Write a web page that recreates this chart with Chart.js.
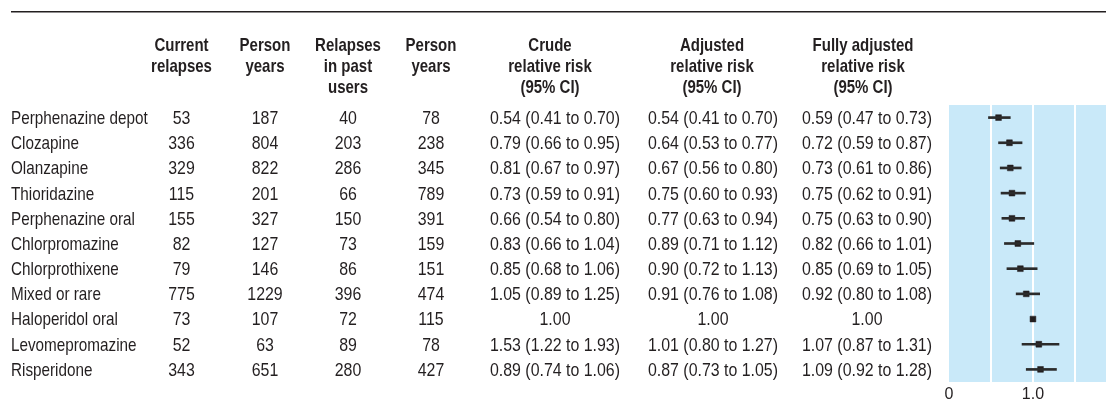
<!DOCTYPE html>
<html>
<head>
<meta charset="utf-8">
<script src="https://cdn.jsdelivr.net/npm/chart.js@4"></script>
<style>
  html, body { margin: 0; padding: 0; background: #ffffff; }
  #wrap { width: 1106px; height: 399px; }
</style>
</head>
<body>
<div id="wrap"><canvas id="forest" width="1106" height="399"></canvas></div>
<script>
// Antipsychotic relapse table with forest plot of the fully adjusted relative risk
const drugs = ["Perphenazine depot", "Clozapine", "Olanzapine", "Thioridazine", "Perphenazine oral",
  "Chlorpromazine", "Chlorprothixene", "Mixed or rare", "Haloperidol oral", "Levomepromazine", "Risperidone"];
const currentRelapses = [53, 336, 329, 115, 155, 82, 79, 775, 73, 52, 343];
const currentPersonYears = [187, 804, 822, 201, 327, 127, 146, 1229, 107, 63, 651];
const pastRelapses = [40, 203, 286, 66, 150, 73, 86, 396, 72, 89, 280];
const pastPersonYears = [78, 238, 345, 789, 391, 159, 151, 474, 115, 78, 427];

const crudeRR   = [0.54, 0.79, 0.81, 0.73, 0.66, 0.83, 0.85, 1.05, 1.00, 1.53, 0.89];
const crudeLow  = [0.41, 0.66, 0.67, 0.59, 0.54, 0.66, 0.68, 0.89, null, 1.22, 0.74];
const crudeHigh = [0.70, 0.95, 0.97, 0.91, 0.80, 1.04, 1.06, 1.25, null, 1.93, 1.06];

const adjRR   = [0.54, 0.64, 0.67, 0.75, 0.77, 0.89, 0.90, 0.91, 1.00, 1.01, 0.87];
const adjLow  = [0.41, 0.53, 0.56, 0.60, 0.63, 0.71, 0.72, 0.76, null, 0.80, 0.73];
const adjHigh = [0.70, 0.77, 0.80, 0.93, 0.94, 1.12, 1.13, 1.08, null, 1.27, 1.05];

const fullRR   = [0.59, 0.72, 0.73, 0.75, 0.75, 0.82, 0.85, 0.92, 1.00, 1.07, 1.09];
const fullLow  = [0.47, 0.59, 0.61, 0.62, 0.63, 0.66, 0.69, 0.80, null, 0.87, 0.92];
const fullHigh = [0.73, 0.87, 0.86, 0.91, 0.90, 1.01, 1.05, 1.08, null, 1.31, 1.28];

const axisTickLabels = { 0: "0", 1: "1.0" };

const headers = [
  ["Current", "relapses"],
  ["Person", "years"],
  ["Relapses", "in past", "users"],
  ["Person", "years"],
  ["Crude", "relative risk", "(95% CI)"],
  ["Adjusted", "relative risk", "(95% CI)"],
  ["Fully adjusted", "relative risk", "(95% CI)"]
];

const FONT = '"Liberation Sans", Arial, Helvetica, sans-serif';
const INK = '#231f20';

function fmtRR(rr, lo, hi) {
  if (lo == null) return rr.toFixed(2);
  return rr.toFixed(2) + ' (' + lo.toFixed(2) + ' to ' + hi.toFixed(2) + ')';
}

// text squeezed horizontally to give a condensed face
function condensedText(ctx, text, x, y, align, squeeze) {
  ctx.save();
  ctx.translate(x, y);
  ctx.scale(squeeze, 1);
  ctx.textAlign = align;
  ctx.fillText(text, 0, 0);
  ctx.restore();
}

// light blue panel behind the forest plot
const panelBackground = {
  id: 'panelBackground',
  beforeDraw(chart) {
    const { ctx, chartArea: a } = chart;
    ctx.save();
    ctx.fillStyle = '#c9e9f9';
    ctx.fillRect(a.left, a.top, a.right - a.left, a.bottom - a.top);
    ctx.restore();
  }
};

// table columns to the left of the plot, rows aligned to the category scale
const tableText = {
  id: 'tableText',
  afterDraw(chart) {
    const ctx = chart.ctx;
    const yScale = chart.scales.y;
    ctx.save();
    ctx.fillStyle = INK;
    ctx.fillRect(11, 11, 1095, 1.5);
    ctx.textBaseline = 'alphabetic';

    const headerX = [181.5, 265, 348, 431, 550, 712, 863];
    const headerBase = [50.7, 72, 93.3];
    ctx.font = 'bold 19px ' + FONT;
    headers.forEach((lines, c) => {
      lines.forEach((t, k) => condensedText(ctx, t, headerX[c], headerBase[k], 'center', 0.79));
    });

    const colX = [181.5, 265, 348, 431, 555, 713, 867];
    ctx.font = '18.5px ' + FONT;
    drugs.forEach((name, i) => {
      const y = yScale.getPixelForValue(i) + 6.4;
      condensedText(ctx, name, 11, y, 'left', 0.825);
      const cells = [
        String(currentRelapses[i]), String(currentPersonYears[i]),
        String(pastRelapses[i]), String(pastPersonYears[i]),
        fmtRR(crudeRR[i], crudeLow[i], crudeHigh[i]),
        fmtRR(adjRR[i], adjLow[i], adjHigh[i]),
        fmtRR(fullRR[i], fullLow[i], fullHigh[i])
      ];
      cells.forEach((t, c) => condensedText(ctx, t, colX[c], y, 'center', 0.86));
    });
    ctx.restore();
  }
};

new Chart(document.getElementById('forest'), {
  type: 'bar',
  data: {
    labels: drugs,
    datasets: [
      {
        type: 'bar',
        data: drugs.map((_, i) => fullLow[i] == null ? null : [fullLow[i], fullHigh[i]]),
        backgroundColor: '#2b2b2b',
        borderWidth: 0,
        barThickness: 2
      },
      {
        type: 'line',
        data: drugs.map((d, i) => ({ x: fullRR[i], y: d })),
        showLine: false,
        pointStyle: 'rect',
        pointRadius: 4.1,
        pointHoverRadius: 4.1,
        pointBackgroundColor: INK,
        pointBorderColor: INK,
        pointBorderWidth: 0.5
      }
    ]
  },
  options: {
    indexAxis: 'y',
    responsive: false,
    animation: false,
    events: [],
    layout: { autoPadding: false, padding: { left: 949, top: 105, right: 0, bottom: 0 } },
    plugins: { legend: { display: false }, tooltip: { enabled: false } },
    scales: {
      y: { type: 'category', display: false, offset: true },
      x: {
        type: 'linear',
        position: 'bottom',
        min: 0,
        max: 1.87,
        border: { display: false },
        grid: {
          color: c => (c.tick && c.tick.value === 0) ? 'rgba(0,0,0,0)' : '#ffffff',
          lineWidth: 2,
          drawTicks: false
        },
        ticks: {
          stepSize: 0.5,
          includeBounds: false,
          autoSkip: false,
          maxRotation: 0,
          padding: 3,
          color: INK,
          font: { family: FONT, size: 16 },
          callback: v => (v in axisTickLabels) ? axisTickLabels[v] : ''
        },
        afterFit: s => { s.height = 17; s.paddingRight = 0; s.paddingLeft = 0; }
      }
    }
  },
  plugins: [panelBackground, tableText]
});
</script>
</body>
</html>
